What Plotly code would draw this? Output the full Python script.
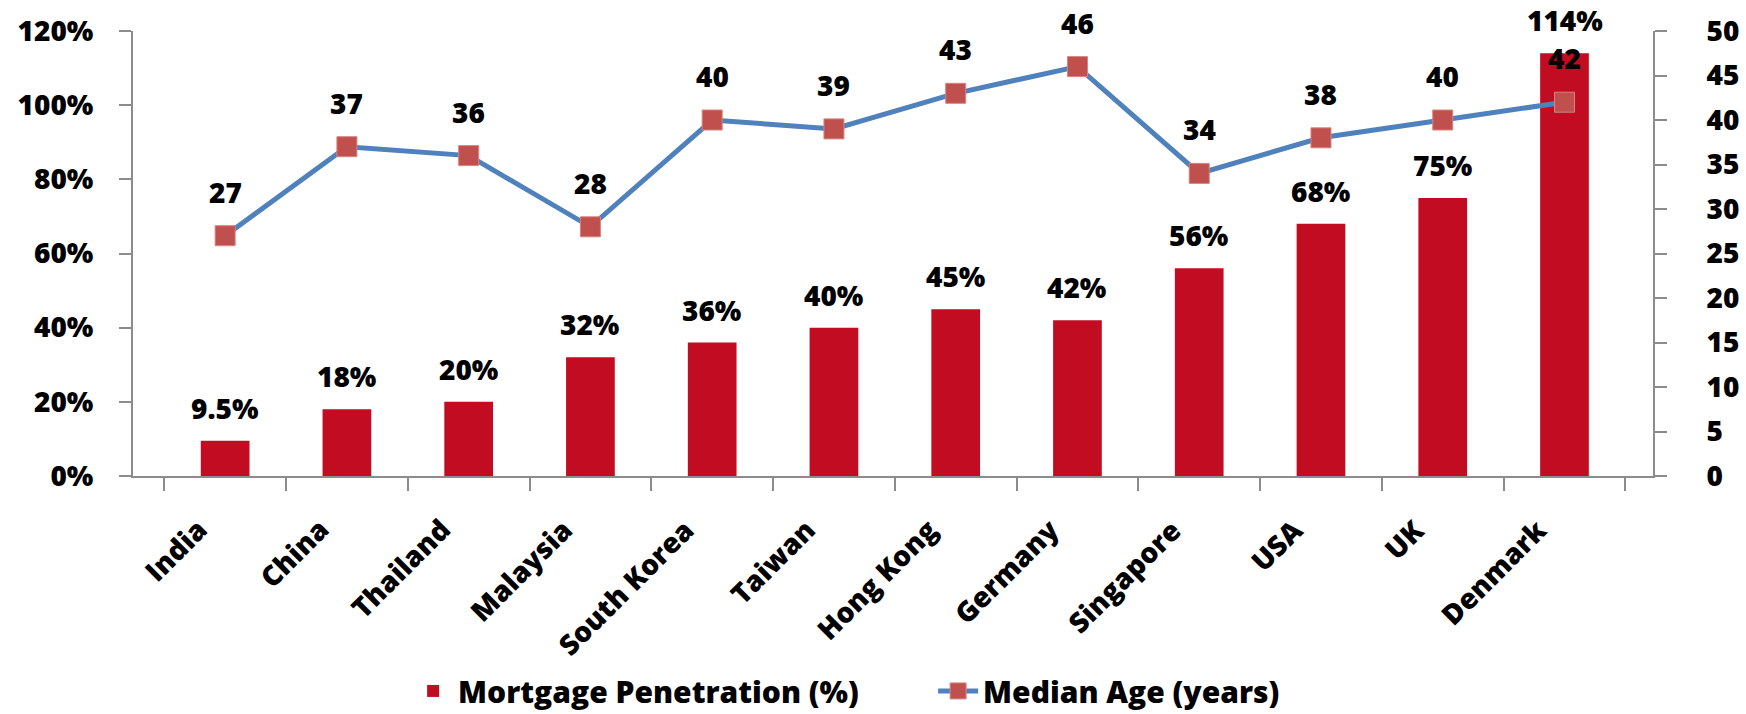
import plotly.graph_objects as go

countries = ["India", "China", "Thailand", "Malaysia", "South Korea", "Taiwan",
             "Hong Kong", "Germany", "Singapore", "USA", "UK", "Denmark"]
mortgage_penetration = [0.095, 0.18, 0.20, 0.32, 0.36, 0.40, 0.45, 0.42, 0.56, 0.68, 0.75, 1.14]
mortgage_labels = ["9.5%", "18%", "20%", "32%", "36%", "40%", "45%", "42%", "56%", "68%", "75%", "114%"]
median_age = [27, 37, 36, 28, 40, 39, 43, 46, 34, 38, 40, 42]

left_ticks = [0, 0.2, 0.4, 0.6, 0.8, 1.0, 1.2]
left_ticktext = ["0%", "20%", "40%", "60%", "80%", "100%", "120%"]
right_ticks = [0, 5, 10, 15, 20, 25, 30, 35, 40, 45, 50]

FONT = "Open Sans"
W = 800
BAR_COLOR = "#C10C22"
LINE_COLOR = "#4F81BD"
MARKER_COLOR = "#C0504D"
AXIS_COLOR = "#8C8C8C"

fig = go.Figure()
fig.add_trace(go.Bar(
    x=countries, y=mortgage_penetration, name="Mortgage Penetration (%)",
    marker=dict(color=BAR_COLOR, line=dict(width=0)),
    yaxis="y", hoverinfo="skip",
))
fig.add_trace(go.Scatter(
    x=countries, y=median_age, name="Median Age (years)", yaxis="y2",
    mode="lines+markers",
    line=dict(color=LINE_COLOR, width=5),
    marker=dict(symbol="square", size=20, color=MARKER_COLOR,
                line=dict(color="#D8837F", width=1)),
    hoverinfo="skip",
))

annotations = []
for c, v, t in zip(countries, mortgage_penetration, mortgage_labels):
    annotations.append(dict(x=c, y=v, xref="x", yref="y", text=t, showarrow=False,
                            yanchor="bottom", yshift=12,
                            font=dict(family=FONT, size=28, color="black", weight=W)))
for c, v in zip(countries, median_age):
    annotations.append(dict(x=c, y=v, xref="x", yref="y2", text=str(v), showarrow=False,
                            yanchor="bottom", yshift=23,
                            font=dict(family=FONT, size=28, color="black", weight=W)))
# rotated category labels
for c in countries:
    annotations.append(dict(x=c, y=0, xref="x", yref="paper", text=c, showarrow=False,
                            textangle=-45, xanchor="right", yanchor="top",
                            xshift=-8, yshift=-32,
                            font=dict(family=FONT, size=28, color="black", weight=W)))

tickfont = dict(family=FONT, size=28, color="black", weight=W)

fig.update_layout(
    width=1746, height=714,
    margin=dict(l=133, r=93, t=31, b=238, autoexpand=False),
    paper_bgcolor="white", plot_bgcolor="white",
    bargap=0.6,
    showlegend=True,
    legend=dict(orientation="h", x=0.181, xanchor="left", y=-0.483, yanchor="middle",
                font=dict(family=FONT, size=30, color="black", weight=W),
                itemwidth=40, entrywidth=470, traceorder="normal"),
    xaxis=dict(type="category", showgrid=False, showline=True, linecolor=AXIS_COLOR,
               linewidth=2, ticks="outside", tickson="boundaries", ticklen=13,
               tickcolor=AXIS_COLOR, tickwidth=2, showticklabels=False, automargin=False),
    yaxis=dict(range=[0, 1.2], tickvals=left_ticks, ticktext=left_ticktext,
               showgrid=False, zeroline=False, showline=True, linecolor=AXIS_COLOR,
               linewidth=2, ticks="outside", ticklen=12, tickcolor=AXIS_COLOR, tickwidth=2,
               tickfont=tickfont, ticklabelstandoff=20, automargin=False),
    yaxis2=dict(range=[0, 50], tickvals=right_ticks, overlaying="y", side="right",
                showgrid=False, zeroline=False, showline=True, linecolor=AXIS_COLOR,
                linewidth=2, ticks="outside", ticklen=12, tickcolor=AXIS_COLOR, tickwidth=2,
                tickfont=tickfont, ticklabelstandoff=34, automargin=False),
    annotations=annotations,
)

fig.write_html("out.html", config={"displayModeBar": False},
               post_script="document.body.style.margin='0';document.body.style.overflow='hidden';")
